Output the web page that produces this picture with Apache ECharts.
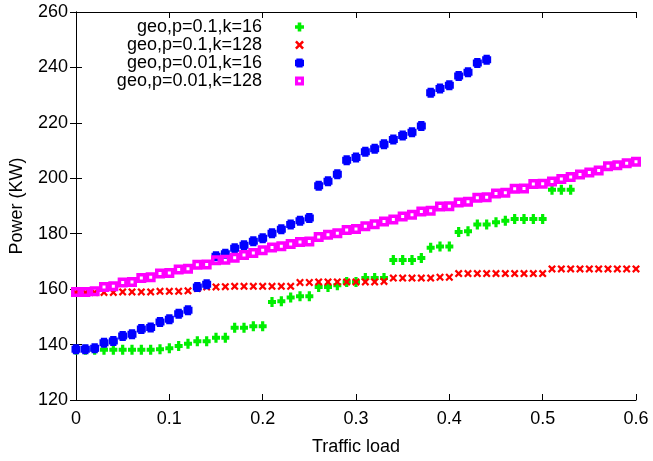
<!DOCTYPE html>
<html>
<head>
<meta charset="utf-8">
<script src="https://cdn.jsdelivr.net/npm/echarts@6/dist/echarts.min.js"></script>
<style>
    html, body { margin: 0; padding: 0; background: #ffffff; }
    #chart01 { width: 653px; height: 461px; }
</style>
</head>
<body>
<div id="chart01"></div>
<script>
// traffic load (x) for every measured point
var loads = [0, 0.01, 0.02, 0.03, 0.04, 0.05, 0.06, 0.07, 0.08, 0.09,
    0.1, 0.11, 0.12, 0.13, 0.14, 0.15, 0.16, 0.17, 0.18, 0.19,
    0.2, 0.21, 0.22, 0.23, 0.24, 0.25, 0.26, 0.27, 0.28, 0.29,
    0.3, 0.31, 0.32, 0.33, 0.34, 0.35, 0.36, 0.37, 0.38, 0.39,
    0.4, 0.41, 0.42, 0.43, 0.44, 0.45, 0.46, 0.47, 0.48, 0.49,
    0.5, 0.51, 0.52, 0.53, 0.54, 0.55, 0.56, 0.57, 0.58, 0.59, 0.6];

var seriesNames = ['geo,p=0.1,k=16', 'geo,p=0.1,k=128', 'geo,p=0.01,k=16', 'geo,p=0.01,k=128'];

// power (KW)
var p01k16 = [138.1, 138.1, 138.1, 138.1, 138.1, 138.1, 138.1, 138.1, 138.1, 138.3,
    138.7, 139.5, 140.3, 141.2, 141.2, 142.5, 142.5, 146.1, 146.1, 146.6,
    146.6, 155.4, 155.6, 157.0, 157.4, 157.4, 160.8, 160.8, 161.4, 162.6,
    162.6, 164.0, 164.0, 164.0, 170.5, 170.5, 170.5, 171.2, 174.9, 175.4,
    175.4, 180.6, 180.9, 183.3, 183.3, 184.1, 184.7, 185.3, 185.3, 185.3,
    185.3, 195.9, 195.9, 195.9];
var p01k128 = [158.8, 158.8, 158.8, 158.8, 158.8, 159.0, 159.0, 159.0, 159.0, 159.2,
    159.2, 159.2, 159.4, 160.2, 160.8, 160.8, 160.9, 161.0, 161.0, 161.0,
    161.0, 161.0, 161.0, 161.0, 162.4, 162.4, 162.6, 162.6, 162.6, 162.6,
    162.6, 162.6, 162.6, 162.8, 164.0, 164.0, 164.0, 164.0, 164.0, 164.3,
    164.3, 165.6, 165.6, 165.6, 165.6, 165.6, 165.6, 165.6, 165.6, 165.6,
    165.6, 167.3, 167.3, 167.3, 167.3, 167.3, 167.3, 167.3, 167.3, 167.3, 167.3];
var p001k16 = [138.3, 138.3, 138.7, 140.7, 141.3, 143.1, 143.7, 145.6, 146.2, 148.1,
    149.1, 151.1, 152.4, 160.8, 161.8, 171.9, 172.8, 174.8, 175.8, 177.3,
    178.4, 180.2, 181.6, 183.3, 184.7, 185.7, 197.3, 198.9, 201.5, 206.5,
    207.5, 209.6, 210.7, 212.3, 214.0, 215.4, 216.6, 218.9, 230.9, 232.4,
    233.6, 236.9, 238.3, 241.6, 242.8];
var p001k128 = [159.0, 159.0, 159.2, 160.8, 161.0, 162.4, 162.6, 164.0, 164.3, 165.6,
    165.8, 167.1, 167.4, 168.8, 168.9, 170.4, 170.6, 171.3, 172.3, 173.0,
    174.0, 175.0, 175.5, 176.3, 177.0, 177.2, 178.8, 179.6, 180.2, 181.3,
    181.7, 182.7, 183.4, 184.4, 185.1, 186.2, 186.8, 188.0, 188.3, 189.8,
    189.9, 191.3, 191.5, 193.0, 193.2, 194.5, 194.8, 196.2, 196.3, 197.9,
    198.0, 198.8, 199.7, 200.5, 201.4, 202.1, 202.8, 204.3, 204.7, 205.4, 206.0];

var xTicks = { min: 0, max: 0.6, interval: 0.1 };
var yTicks = { min: 120, max: 260, interval: 20 };

function pairs(values) {
    return values.map(function (v, i) { return [loads[i], v]; });
}

function chart01(id) {
    var myChart = echarts.init(document.getElementById(id));
    var font = 'Liberation Sans, Arial, sans-serif';

    // gnuplot style point shapes
    var plusPath = 'path://M3,0H7V3H10V7H7V10H3V7H0V3H3Z';
    var crossPath = 'path://M0,2L2,0L5,3L8,0L10,2L7,5L10,8L8,10L5,7L2,10L0,8L3,5Z';
    var starPath = 'path://M1.5,0H8.5V1.5H10V8.5H8.5V10H1.5V8.5H0V1.5H1.5Z';
    var boxPath = 'path://M0,0H10V10H0Z M3.5,3.5V6.5H6.5V3.5Z';

    var styles = [
        { color: '#00ee00', symbol: plusPath, size: [8, 10] },
        { color: '#ff0000', symbol: crossPath, size: 8 },
        { color: '#0000ff', symbol: starPath, size: [9, 10] },
        { color: '#ff00ff', symbol: boxPath, size: 10 }
    ];
    var datas = [p01k16, p01k128, p001k16, p001k128];

    var legends = seriesNames.map(function (name, i) {
        return {
            data: [name],
            right: 349,
            top: 18 + i * 18,
            orient: 'vertical',
            align: 'right',
            padding: 0,
            itemWidth: 9,
            itemHeight: 9,
            itemGap: 0,
            selectedMode: false,
            textStyle: {
                fontFamily: font,
                fontSize: 18,
                color: '#000000',
                padding: [0, 28, 0, 0]
            }
        };
    });

    var axisLine = { show: true, lineStyle: { color: '#000000', width: 1 } };
    var axisTick = { show: true, inside: true, length: 6, lineStyle: { color: '#000000' } };

    var option = {
        animation: false,
        backgroundColor: '#ffffff',
        grid: {
            left: 74,
            right: 17,
            top: 12,
            bottom: 59
        },
        legend: legends,
        xAxis: [
            {
                type: 'value',
                min: xTicks.min,
                max: xTicks.max,
                interval: xTicks.interval,
                name: 'Traffic load',
                nameLocation: 'middle',
                nameGap: 38,
                nameTextStyle: { fontFamily: font, fontSize: 18, color: '#000000' },
                axisLine: axisLine,
                axisTick: axisTick,
                splitLine: { show: false },
                axisLabel: { fontFamily: font, fontSize: 18, color: '#000000', margin: 10 }
            },
            {
                type: 'value',
                position: 'top',
                min: xTicks.min,
                max: xTicks.max,
                interval: xTicks.interval,
                axisLine: axisLine,
                axisTick: axisTick,
                splitLine: { show: false },
                axisLabel: { show: false }
            }
        ],
        yAxis: [
            {
                type: 'value',
                min: yTicks.min,
                max: yTicks.max,
                interval: yTicks.interval,
                name: 'Power (KW)',
                nameLocation: 'middle',
                nameGap: 50,
                nameTextStyle: { fontFamily: font, fontSize: 18, color: '#000000' },
                axisLine: axisLine,
                axisTick: axisTick,
                splitLine: { show: false },
                axisLabel: { fontFamily: font, fontSize: 18, color: '#000000', margin: 8 }
            },
            {
                type: 'value',
                position: 'right',
                min: yTicks.min,
                max: yTicks.max,
                interval: yTicks.interval,
                axisLine: axisLine,
                axisTick: axisTick,
                splitLine: { show: false },
                axisLabel: { show: false }
            }
        ],
        series: seriesNames.map(function (name, i) {
            return {
                name: name,
                type: 'scatter',
                symbol: styles[i].symbol,
                symbolSize: styles[i].size,
                itemStyle: { color: styles[i].color, opacity: 1 },
                data: pairs(datas[i])
            };
        })
    };

    myChart.setOption(option);
    return myChart;
}

var chartInit01 = chart01('chart01');
window.addEventListener('resize', function () {
    chartInit01.resize();
});
</script>
</body>
</html>
